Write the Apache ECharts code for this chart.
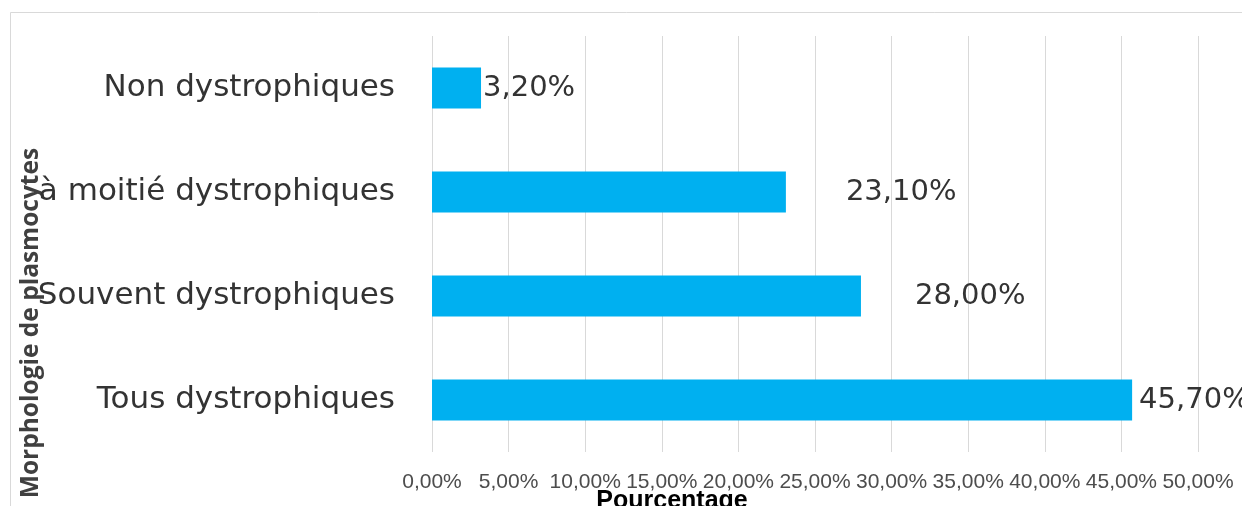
<!DOCTYPE html>
<html>
<head>
<meta charset="utf-8">
<script src="https://cdn.jsdelivr.net/npm/echarts@6/dist/echarts.min.js"></script>
<style>
  html, body { margin: 0; padding: 0; background: #fff; }
  #chart { width: 1242px; height: 506px; }
</style>
</head>
<body>
<div id="chart"></div>
<script>
// Categories, bottom to top on the category axis
const categories = ['Tous dystrophiques', 'Souvent dystrophiques', 'à moitié dystrophiques', 'Non dystrophiques'];
// Share of plasmocytes per morphology (%)
const values = [45.7, 28.0, 23.1, 3.2];
// Extra horizontal gap of each value label after its bar end
const labelGaps = [7, 54, 60, 2];

const fmt = v => v.toFixed(2).replace('.', ',') + '%';

const chart = echarts.init(document.getElementById('chart'));
chart.setOption({
  backgroundColor: '#fff',
  animation: false,
  graphic: [{
    type: 'rect',
    shape: { x: 10.5, y: 12.5, width: 1260, height: 520 },
    style: { fill: 'none', stroke: '#d9d9d9', lineWidth: 1 },
    silent: true
  }],
  grid: { left: 432, right: 44, top: 36, bottom: 54, outerBoundsMode: 'none', containLabel: false },
  xAxis: {
    type: 'value',
    min: 0, max: 50, interval: 5,
    name: 'Pourcentage',
    nameLocation: 'middle',
    nameGap: 37,
    nameMoveOverlap: false,
    nameTextStyle: {
      fontFamily: 'Liberation Sans, sans-serif',
      fontWeight: 'bold', fontSize: 25, color: '#000',
      padding: [0, 286, 0, 0]
    },
    axisLine: { show: false },
    axisTick: { show: false },
    splitLine: { show: true, lineStyle: { color: '#d9d9d9', width: 1 } },
    axisLabel: {
      margin: 20,
      fontFamily: 'Liberation Sans, sans-serif',
      fontSize: 21, color: '#4d4d4d',
      formatter: v => fmt(v)
    }
  },
  yAxis: {
    type: 'category',
    data: categories,
    name: 'Morphologie de plasmocytes',
    nameLocation: 'middle',
    nameGap: 388,
    nameMoveOverlap: false,
    nameRotate: 90,
    nameTextStyle: {
      fontFamily: 'Open Sans, sans-serif',
      fontWeight: 'bold', fontSize: 24.5, color: '#404040',
      padding: [0, 158, 0, 0]
    },
    axisLine: { show: false },
    axisTick: { show: false },
    axisLabel: {
      margin: 37,
      fontFamily: 'DejaVu Sans, sans-serif',
      fontSize: 31, color: '#333',
      padding: [0, 0, 6, 0]
    }
  },
  series: [{
    type: 'bar',
    barWidth: 41,
    itemStyle: { color: '#00B0F0' },
    data: values.map((v, i) => ({
      value: v,
      label: { distance: labelGaps[i] }
    })),
    label: {
      show: true,
      position: 'right',
      fontFamily: 'DejaVu Sans, sans-serif',
      fontSize: 29, color: '#333',
      padding: [4, 0, 0, 0],
      formatter: p => fmt(p.value)
    }
  }]
});
</script>
</body>
</html>
